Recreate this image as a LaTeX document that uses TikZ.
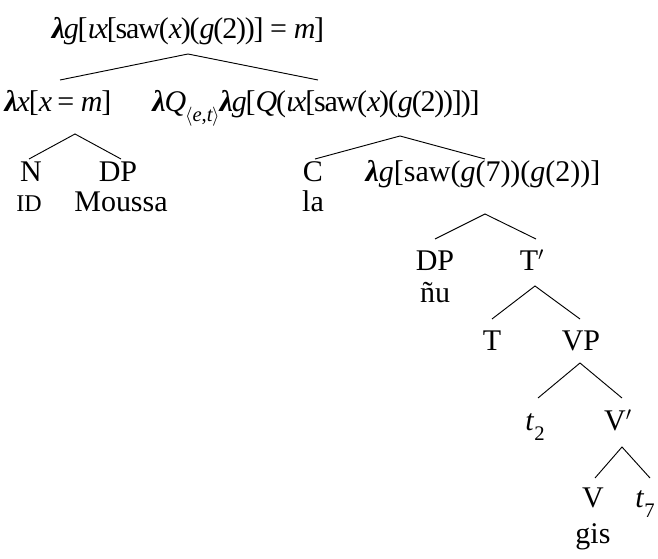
\documentclass[tikz,border=0pt]{standalone}
\usepackage{fontspec}
\setmainfont{Liberation Serif}
\newcommand\vi[1]{\textit{#1}}
\newcommand\lam{\textit{\textbf{λ}}}
\newcommand\eq{\hspace{0.22em}=\hspace{0.22em}}
\newcommand\sub[1]{\raisebox{-0.32em}{\fontsize{15.5}{15.5}\selectfont #1}}
\begin{document}
\begin{tikzpicture}[x=0.75pt,y=-0.75pt,
  lbl/.style={inner sep=0pt, anchor=base, font=\fontsize{22.5}{26}\selectfont},
  fml/.style={lbl, font=\fontsize{22.5}{26}\selectfont\addfontfeature{LetterSpace=-4}},
  branch/.style={line width=0.7pt}]
\useasboundingbox (0,0) rectangle (658,559);
% labels
\node[fml] (root) at (188,39) {\lam\vi{g}[\vi{ιx}[saw(\vi{x})(\vi{g}(2))]\eq\vi{m}]};
\node[fml] (lx) at (58,112) {\lam\vi{x}[\vi{x}\eq\vi{m}]};
\node[fml] (lq) at (316,112) {\lam\vi{Q}\sub{$\langle$\vi{e},\vi{t}$\rangle$}\lam\vi{g}[\vi{Q}(\vi{ιx}[saw(\vi{x})(\vi{g}(2))])]};
\node[lbl] (n) at (31,182) {N};
\node[lbl] (dp1) at (118,182) {DP};
\node[lbl] (id) at (29,212) {{\fontsize{18}{18}\selectfont ID}};
\node[lbl] (moussa) at (121,212) {Moussa};
\node[lbl] (c) at (313,182) {C};
\node[lbl] (la) at (313,212) {la};
\node[lbl] (lg) at (483,182) {\lam\vi{g}[saw(\vi{g}(7))(\vi{g}(2))]};
\node[lbl] (dp2) at (435,271) {DP};
\node[lbl] (nu) at (435,303) {ñu};
\node[lbl] (tbar) at (532,271) {T$'$};
\node[lbl] (t) at (492,351) {T};
\node[lbl] (vp) at (581,351) {VP};
\node[lbl] (t2) at (535,431) {\vi{t}\sub{2}};
\node[lbl] (vbar) at (618,431) {V$'$};
\node[lbl] (v) at (593,508) {V};
\node[lbl] (t7) at (645,508) {\vi{t}\sub{7}};
\node[lbl] (gis) at (593,544) {gis};
% branch points
\coordinate (root-a) at (188,54);
\coordinate (lx-e) at (60,80);
\coordinate (lq-e) at (318,80);
\coordinate (lx-a) at (75,134);
\coordinate (n-e) at (29,159);
\coordinate (dp1-e) at (121,159);
\coordinate (lq-a) at (400,136);
\coordinate (c-e) at (315,159);
\coordinate (lg-e) at (485,159);
\coordinate (lg-a) at (485,214);
\coordinate (dp2-e) at (435,239);
\coordinate (tbar-e) at (536,239);
\coordinate (tbar-a) at (535,286);
\coordinate (t-e) at (492,319);
\coordinate (vp-e) at (580,319);
\coordinate (vp-a) at (580,363);
\coordinate (t2-e) at (538,398);
\coordinate (vbar-e) at (622,398);
\coordinate (vbar-a) at (622,447);
\coordinate (v-e) at (595,478);
\coordinate (t7-e) at (650,478);
% branches
\draw[branch] (lx-e) -- (root-a) -- (lq-e);
\draw[branch] (n-e) -- (lx-a) -- (dp1-e);
\draw[branch] (c-e) -- (lq-a) -- (lg-e);
\draw[branch] (dp2-e) -- (lg-a) -- (tbar-e);
\draw[branch] (t-e) -- (tbar-a) -- (vp-e);
\draw[branch] (t2-e) -- (vp-a) -- (vbar-e);
\draw[branch] (v-e) -- (vbar-a) -- (t7-e);
\end{tikzpicture}
\end{document}
